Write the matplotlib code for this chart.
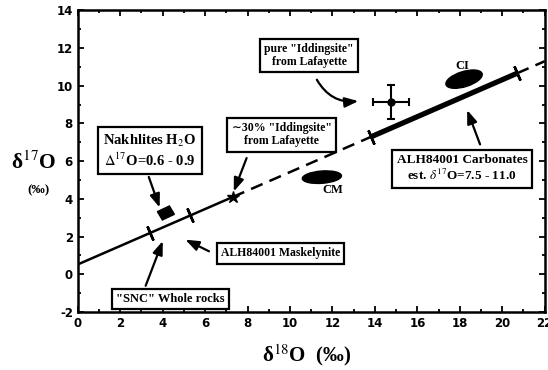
import numpy as np
import matplotlib.pyplot as plt
from matplotlib.patches import Ellipse, Rectangle

plt.rcParams['mathtext.fontset'] = 'stix'
plt.rcParams['axes.unicode_minus'] = False

# fractionation line  d17O = a + b * d18O
line_a = 0.52
line_b = 0.49
thin_x = [0.0, 7.3]       # thin solid part
dash1_x = [7.3, 13.8]     # dashed part
thick_x = [13.8, 20.7]    # carbonate range, thick
dash2_x = [20.7, 22.0]
bar_x = [3.4, 5.3, 13.8, 20.7]   # short cross ticks on line
star_x = [7.3]

# pure iddingsite point
idd_x, idd_y = 14.75, 9.15
idd_xerr, idd_yerr = 0.85, 0.9

# ellipses: name, cx, cy, w, h, angle
ell_names = ["CI", "CM"]
ell_cx = [18.2, 11.5]
ell_cy = [10.35, 5.15]
ell_w = [1.8, 1.85]
ell_h = [0.8, 0.65]
ell_ang = [20, 5]
ell_lab_xy = [(18.1, 11.05), (12.0, 4.45)]

# nakhlite water block
nak_x, nak_y = 4.15, 3.25

# annotation boxes: text, box center, arrow start, arrow end, curvature
box_text = [
    'pure "Iddingsite"\nfrom Lafayette',
    '∼30% "Iddingsite"\nfrom Lafayette',
    'Nakhlites H$_2$O\n$\\Delta^{17}$O=0.6 - 0.9',
    'ALH84001 Maskelynite',
    '"SNC" Whole rocks',
    'ALH84001 Carbonates\nest. $\\delta^{17}$O=7.5 - 11.0',
]
box_xy = [(10.9, 11.6), (9.6, 7.4), (3.4, 6.55), (9.55, 1.1), (4.35, -1.32), (18.1, 5.6)]
arr_from = [(11.2, 10.45), (8.0, 6.3), (3.3, 5.3), (6.3, 1.15), (3.15, -0.75), (19.0, 6.75)]
arr_to = [(13.35, 9.2), (7.3, 4.25), (3.9, 3.4), (4.95, 1.9), (4.05, 1.9), (18.3, 8.85)]
arr_rad = [0.35, 0, 0, 0, 0, 0]
box_size = [8.5, 8.5, 10.5, 8.5, 9, 9.5]

fig = plt.figure(figsize=(5.48, 3.70), dpi=100)
ax = fig.add_axes([0.142, 0.157, 0.852, 0.815])


def yline(x):
    x = np.asarray(x)
    return line_a + line_b * x


ax.plot(thin_x, yline(thin_x), color="black", lw=1.8, solid_capstyle="butt")
ax.plot(dash1_x, yline(dash1_x), color="black", lw=1.8, ls=(0, (5, 3)))
ax.plot(thick_x, yline(thick_x), color="black", lw=3.8, solid_capstyle="butt")
ax.plot(dash2_x, yline(dash2_x), color="black", lw=1.8, ls=(0, (5, 3)))
ax.plot(bar_x, yline(bar_x), ls="none", marker=(2, 2, 23), ms=11, mew=1.8, color="black")
ax.plot(star_x, yline(star_x), ls="none", marker="*", ms=9, color="black")

ax.errorbar([idd_x], [idd_y], xerr=[idd_xerr], yerr=[idd_yerr], fmt="o", ms=5,
            color="black", capsize=3, elinewidth=1.5, capthick=1.5)

for name, cx, cy, w, h, ang, lxy in zip(ell_names, ell_cx, ell_cy, ell_w, ell_h, ell_ang, ell_lab_xy):
    ax.add_patch(Ellipse((cx, cy), w, h, angle=ang, facecolor="black", edgecolor="black"))
    ax.text(lxy[0], lxy[1], name, fontsize=9, family="Liberation Serif", fontweight="bold",
            ha="center", va="center")

ax.add_patch(Rectangle((nak_x - 0.32, nak_y - 0.25), 0.64, 0.5, angle=28,
                       rotation_point="center", facecolor="black", edgecolor="black"))

for t, bxy, a0, a1, rad, fs in zip(box_text, box_xy, arr_from, arr_to, arr_rad, box_size):
    ax.text(bxy[0], bxy[1], t, fontsize=fs, family=["Liberation Serif", "DejaVu Serif"],
            fontweight="bold", ha="center", va="center", linespacing=1.15,
            bbox=dict(boxstyle="square,pad=0.35", facecolor="white", edgecolor="black", lw=1.6))
    ax.annotate("", xy=a1, xytext=a0,
                arrowprops=dict(arrowstyle="-|>,head_length=0.8,head_width=0.3", color="black",
                                lw=1.6, connectionstyle="arc3,rad=%s" % rad))

ax.set_xlim(0, 22)
ax.set_ylim(-2, 14)
ax.set_xticks(np.arange(0, 23, 2))
ax.set_yticks(np.arange(-2, 15, 2))
ax.set_xticks(np.arange(0, 23, 1), minor=True)
ax.set_yticks(np.arange(-2, 15, 1), minor=True)
ax.tick_params(which="both", direction="in", top=True, right=True, width=1.3)
ax.tick_params(which="major", length=4, labelsize=8.5)
ax.tick_params(which="minor", length=2.5)
for lbl in ax.get_xticklabels() + ax.get_yticklabels():
    lbl.set_fontweight("bold")
for sp in ax.spines.values():
    sp.set_linewidth(1.8)

fig.text(0.062, 0.56, "δ$^{17}$O", fontsize=15.5, family="Liberation Serif",
         fontweight="bold", ha="center", va="center")
fig.text(0.07, 0.485, "(‰)", fontsize=9.5, family=["Liberation Serif", "DejaVu Serif"],
         fontweight="bold", ha="center", va="center")
fig.text(0.56, 0.04, "δ$^{18}$O  (‰)", fontsize=15, family=["Liberation Serif", "DejaVu Serif"],
         fontweight="bold", ha="center", va="center")

fig.savefig("out.png", dpi=100)
